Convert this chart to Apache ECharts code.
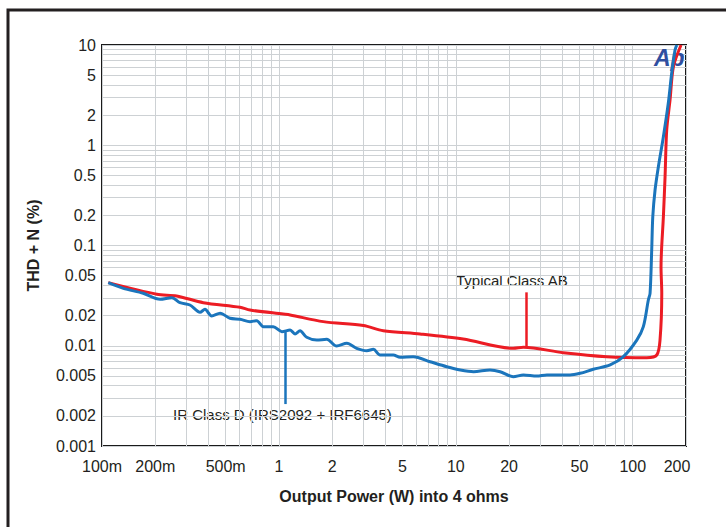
<!DOCTYPE html>
<html><head><meta charset="utf-8">
<script src="https://cdn.jsdelivr.net/npm/echarts@6/dist/echarts.min.js"></script>
<style>html,body{margin:0;padding:0;background:#fff}#c{width:726px;height:527px}</style>
</head><body><div id="c"></div>
<script>
// ---- data ----
const xTickValues = [0.1, 0.2, 0.5, 1, 2, 5, 10, 20, 50, 100, 200];
const xTickText = ['100m', '200m', '500m', '1', '2', '5', '10', '20', '50', '100', '200'];
const yTickValues = [0.001, 0.002, 0.005, 0.01, 0.02, 0.05, 0.1, 0.2, 0.5, 1, 2, 5, 10];
const yTickText = ['0.001', '0.002', '0.005', '0.01', '0.02', '0.05', '0.1', '0.2', '0.5', '1', '2', '5', '10'];
const xGridValues = [0.1, 0.2, 0.3, 0.4, 0.5, 0.6, 0.7, 0.8, 0.9, 1, 2, 3, 4, 5, 6, 7, 8, 9, 10, 20, 30, 40, 50, 60, 70, 80, 90, 100, 200];
const yGridValues = [0.001, 0.002, 0.003, 0.004, 0.005, 0.006, 0.007, 0.008, 0.009, 0.01, 0.02, 0.03, 0.04, 0.05, 0.06, 0.07, 0.08, 0.09, 0.1, 0.2, 0.3, 0.4, 0.5, 0.6, 0.7, 0.8, 0.9, 1, 2, 3, 4, 5, 6, 7, 8, 9, 10];

const classABPower = [0.1085, 0.204, 0.264, 0.374, 0.603, 0.687, 1.059, 1.157, 1.78, 3.0, 3.89, 6.28, 11.0, 21.1, 24.1, 40.5, 71.3, 120, 136.7, 142.6, 145.9, 144.5, 149, 152.3, 155.6, 162.5, 169.8, 187.5];
const classABThd = [0.0426, 0.0326, 0.0314, 0.0269, 0.0242, 0.0227, 0.0207, 0.0203, 0.0174, 0.0159, 0.0141, 0.0131, 0.01167, 0.00943, 0.00965, 0.00853, 0.00778, 0.0076, 0.00809, 0.0114, 0.0334, 0.0615, 0.194, 0.486, 1.42, 2.83, 6.08, 10];

const classDPower = [0.1085, 0.132, 0.171, 0.213, 0.248, 0.276, 0.314, 0.358, 0.382, 0.417, 0.465, 0.529, 0.603, 0.687, 0.749, 0.817, 0.929, 1.04, 1.157, 1.233, 1.316, 1.436, 1.636, 1.864, 2.12, 2.42, 2.75, 3.14, 3.42, 3.73, 4.43, 4.84, 5.75, 7.15, 8.88, 10.6, 12.6, 15.6, 17.8, 21.1, 24.1, 28.7, 32.7, 44.2, 50.4, 59.8, 74.5, 88.5, 105.4, 114.8, 122.5, 125.3, 128, 129.8, 133.7, 139.6, 149, 158.8, 166, 173.4, 177.4];
const classDThd = [0.0426, 0.0374, 0.0334, 0.0291, 0.0302, 0.0269, 0.0255, 0.0216, 0.0231, 0.0198, 0.0211, 0.0188, 0.0184, 0.0174, 0.0178, 0.0155, 0.0155, 0.0138, 0.01436, 0.0131, 0.0141, 0.01214, 0.0114, 0.01159, 0.00994, 0.01058, 0.00943, 0.00893, 0.00922, 0.00809, 0.00809, 0.00767, 0.00778, 0.00693, 0.00618, 0.00573, 0.00551, 0.00573, 0.00551, 0.00491, 0.00511, 0.00499, 0.00511, 0.00511, 0.00531, 0.00582, 0.00643, 0.00778, 0.0114, 0.0155, 0.0286, 0.0334, 0.0902, 0.194, 0.358, 0.611, 1.217, 2.62, 5.22, 8.91, 10];

const abPointerPower = [24.9, 24.9];
const abPointerThd = [0.0341, 0.00966];
const dPointerPower = [1.084, 1.084];
const dPointerThd = [0.0137, 0.00262];

const seriesNames = ['Typical Class AB', 'IR Class D (IRS2092 + IRF6645)'];

// ---- helpers ----
function pairs(xs, ys) { return xs.map((x, i) => [x, ys[i]]); }
function nearestText(v, vals, texts) {
  let best = 0, bd = Infinity;
  vals.forEach((t, i) => { const d = Math.abs(Math.log10(v) - Math.log10(t)); if (d < bd) { bd = d; best = i; } });
  return texts[best];
}
const TXT = '#231f20';
const FONT = 'Liberation Sans, Arial, sans-serif';

const chart = echarts.init(document.getElementById('c'), null, { renderer: 'svg' });
chart.setOption({
  animation: false,
  backgroundColor: '#fff',
  grid: { left: 102, right: 40, top: 45, bottom: 81, show: true, borderColor: '#1a1a1a', borderWidth: 2, backgroundColor: 'transparent' },
  xAxis: {
    type: 'log', logBase: 10, min: 0.1, max: 200,
    name: 'Output Power (W) into 4 ohms', nameLocation: 'middle', nameGap: 42,
    nameTextStyle: { fontFamily: FONT, fontSize: 16, fontWeight: 'bold', color: TXT },
    axisLine: { show: false },
    axisTick: { show: false, customValues: xGridValues },
    splitLine: { show: true, lineStyle: { color: '#cdd1d4', width: 1 } },
    axisLabel: {
      customValues: xTickValues, margin: 12, fontFamily: FONT, fontSize: 16, color: TXT,
      formatter: v => { const t = nearestText(v, xTickValues, xTickText); return t === '200' ? '{last|200}' : t; },
      rich: { last: { fontFamily: FONT, fontSize: 16, color: TXT, padding: [0, 18, 0, 0] } }
    }
  },
  yAxis: {
    type: 'log', logBase: 10, min: 0.001, max: 10,
    name: 'THD + N (%)', nameLocation: 'middle', nameGap: 61, nameRotate: 90,
    nameTextStyle: { fontFamily: FONT, fontSize: 16, fontWeight: 'bold', color: TXT },
    axisLine: { show: false },
    axisTick: { show: false, customValues: yGridValues },
    splitLine: { show: true, lineStyle: { color: '#cdd1d4', width: 1 } },
    axisLabel: {
      customValues: yTickValues, margin: 6, fontFamily: FONT, fontSize: 16, color: TXT,
      formatter: v => nearestText(v, yTickValues, yTickText)
    }
  },
  series: [
    {
      name: seriesNames[0], type: 'line', data: pairs(classABPower, classABThd),
      showSymbol: false, smooth: 0.3, z: 3,
      lineStyle: { color: '#ec1c24', width: 3 },
      markLine: {
        silent: true, symbol: ['none', 'none'], label: { show: false },
        lineStyle: { color: '#ec1c24', width: 2.5, type: 'solid' },
        data: [[{ coord: [abPointerPower[0], abPointerThd[0]] }, { coord: [abPointerPower[1], abPointerThd[1]] }]]
      }
    },
    {
      name: seriesNames[1], type: 'line', data: pairs(classDPower, classDThd),
      showSymbol: false, smooth: 0.3, z: 4,
      lineStyle: { color: '#1b75bc', width: 3 },
      markLine: {
        silent: true, symbol: ['none', 'none'], label: { show: false },
        lineStyle: { color: '#1b75bc', width: 2.5, type: 'solid' },
        data: [[{ coord: [dPointerPower[0], dPointerThd[0]] }, { coord: [dPointerPower[1], dPointerThd[1]] }]]
      }
    }
  ],
  graphic: [
    { type: 'rect', shape: { x: 8, y: 10, width: 800, height: 600 }, style: { fill: 'none', stroke: '#231f20', lineWidth: 3 }, z: 10 },
    { type: 'text', left: 456, top: 273, style: { text: seriesNames[0], font: '15px ' + FONT, fill: TXT } },
    { type: 'text', left: 173, top: 407, style: { text: seriesNames[1], font: '15px ' + FONT, fill: TXT } },
    { type: 'text', left: 654, top: 46, z: 2, style: { text: 'Ap', font: 'italic bold 23px ' + FONT, fill: '#2f4fa0' } }
  ]
});
</script></body></html>
